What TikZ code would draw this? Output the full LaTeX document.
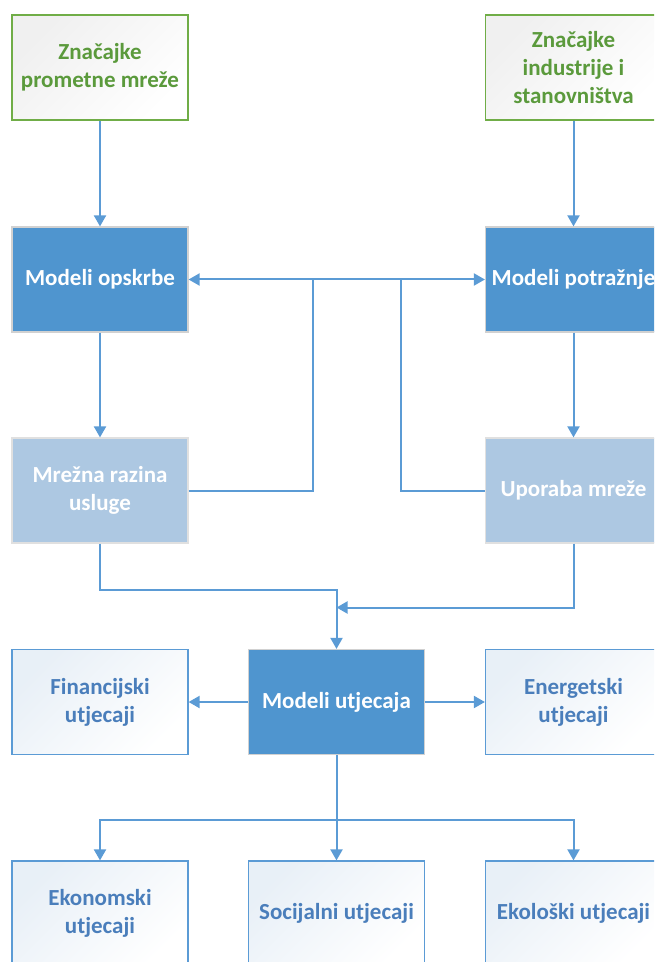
\documentclass[tikz,border=0pt]{standalone}
\usepackage{fontspec}
\setmainfont{Carlito}
\usepackage{tikz}
\usetikzlibrary{shapes}
\usetikzlibrary{arrows.meta}

\definecolor{lnk}{HTML}{5B9BD5}
\definecolor{dblue}{HTML}{4F95CF}
\definecolor{lblue}{HTML}{ADC8E2}
\definecolor{wtext}{HTML}{4A7EBB}
\definecolor{grnline}{HTML}{70AD47}
\definecolor{grntext}{HTML}{5B9A3C}

\begin{document}
\begin{tikzpicture}[x=0.5pt,y=-0.5pt]
			\tikzset{box/.style = {shape=rectangle, minimum width=88pt,
					minimum height=52.5pt, inner sep=0pt, align=center,
					font=\fontsize{11.5}{14}\selectfont\bfseries}}
			\tikzset{inbox/.style = {box, draw=grnline, line width=0.6pt,
					text=grntext, left color=black!6, right color=white,
					shading angle=45}}
			\tikzset{modbox/.style = {box, draw=black!18, line width=0.6pt,
					fill=dblue, text=white}}
			\tikzset{midbox/.style = {box, draw=black!12, line width=0.6pt,
					fill=lblue, text=white}}
			\tikzset{outbox/.style = {box, draw=lnk, line width=0.6pt,
					text=wtext, left color=lblue!28, right color=white,
					shading angle=45}}
			\tikzset{edge/.style = {-{Triangle[length=5.5pt,width=6pt]},
					draw=lnk, line width=1pt}}
			\tikzset{edgebi/.style = {{Triangle[length=5.5pt,width=6pt]}-{Triangle[length=5.5pt,width=6pt]},
					draw=lnk, line width=1pt}}
			\tikzset{wire/.style = {draw=lnk, line width=1pt}}
			
			\useasboundingbox (0,0) rectangle (654,962);
			\clip (0,0) rectangle (654,962);
			
			% vertices
			\node[inbox] (zpm) at (100,67.5) {Značajke\\prometne mreže};
			\node[inbox] (zis) at (573.5,67.5) {Značajke\\industrije i\\stanovništva};
			\node[modbox] (mo) at (100,279.5) {Modeli opskrbe};
			\node[modbox] (mp) at (573.5,279.5) {Modeli potražnje};
			\node[midbox] (mr) at (100,490.5) {Mrežna razina\\usluge};
			\node[midbox] (up) at (573.5,490.5) {Uporaba mreže};
			\node[modbox] (mu) at (336.5,702) {Modeli utjecaja};
			\node[outbox] (fu) at (100,702) {Financijski\\utjecaji};
			\node[outbox] (eu) at (573.5,702) {Energetski\\utjecaji};
			\node[outbox] (eko) at (100,913.5) {Ekonomski\\utjecaji};
			\node[outbox] (soc) at (336.5,913.5) {Socijalni utjecaji};
			\node[outbox] (ekl) at (573.5,913.5) {Ekološki utjecaji};
			
			\coordinate (c1) at (313,279.5);
			\coordinate (c2) at (401,279.5);
			\coordinate (j1) at (336.5,590);
			\coordinate (j2) at (336.5,607.5);
			\coordinate (b1) at (336.5,820);
			
			%edges
			\draw[edge] (zpm) to (mo);
			\draw[edge] (zis) to (mp);
			\draw[edge] (mo) to (mr);
			\draw[edge] (mp) to (up);
			\draw[edgebi] (mo) to (mp);
			
			\draw[wire] (mr.east) -| (c1);
			\draw[wire] (up.west) -| (c2);
			
			\draw[edge] (mr.south) |- (j1) -- (mu.north);
			\draw[edge] (up.south) |- (j2);
			
			\draw[edge] (mu) to (fu);
			\draw[edge] (mu) to (eu);
			
			\draw[edge] (mu) to (soc);
			\draw[edge] (b1) -| (eko.north);
			\draw[edge] (b1) -| (ekl.north);
			
			\end{tikzpicture}
\end{document}
